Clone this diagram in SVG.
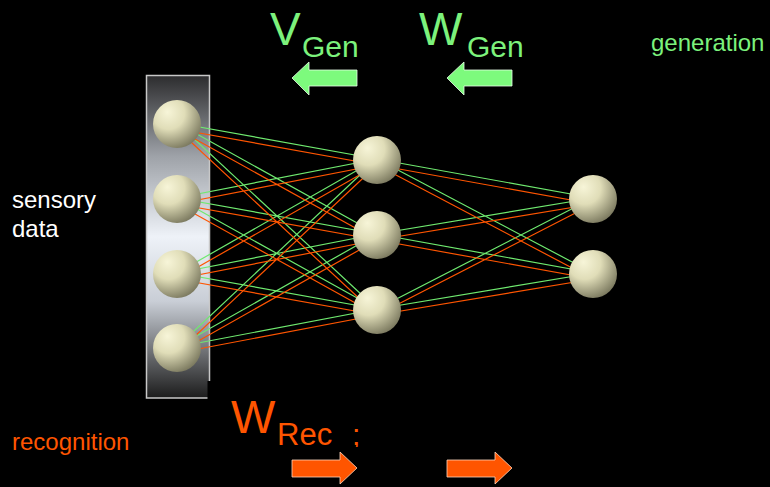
<svg xmlns="http://www.w3.org/2000/svg" xmlns:xlink="http://www.w3.org/1999/xlink" width="770" height="487" viewBox="0 0 770 487">
  <style>
    text { font-family: "Liberation Sans", Arial, sans-serif; }
    .gen { fill: #7cf27c; }
    .rec { fill: #ff5500; }
    .lbl { fill: #ffffff; }
    .wire-g { fill: none; stroke: #6fe96f; stroke-width: 1.2; }
    .wire-o { fill: none; stroke: #ff5500; stroke-width: 1.2; }
    .unit { fill: url(#ball); }
    .arrow-g { fill: #7dfa7d; stroke: #e8ffe8; stroke-width: 0.8; }
    .arrow-o { fill: #ff5500; stroke: #ffd6bd; stroke-width: 0.8; }
  </style>
  <defs>
    <linearGradient id="panel" x1="0" y1="0" x2="0" y2="1">
      <stop offset="0" stop-color="#2c2c2e"/>
      <stop offset="0.25" stop-color="#9ea2a8"/>
      <stop offset="0.5" stop-color="#eef2f8"/>
      <stop offset="0.7" stop-color="#c9ced6"/>
      <stop offset="1" stop-color="#1c1c1c"/>
    </linearGradient>
    <radialGradient id="ball" cx="0.35" cy="0.3" r="0.75" fx="0.3" fy="0.25">
      <stop offset="0" stop-color="#f7f5d8"/>
      <stop offset="0.45" stop-color="#e0ddb8"/>
      <stop offset="1" stop-color="#7a785e"/>
    </radialGradient>
    <clipPath id="semi-clip">
      <rect x="345" y="426" width="20" height="21"/>
    </clipPath>
    <!-- full connectivity: 4 sensory units -> 3 hidden -> 2 top -->
    <path id="web" d="M177,123 L377,159 M177,123 L377,234 M177,123 L377,309
      M177,198 L377,159 M177,198 L377,234 M177,198 L377,309
      M177,273 L377,159 M177,273 L377,234 M177,273 L377,309
      M177,347 L377,159 M177,347 L377,234 M177,347 L377,309
      M377,159 L593,198 M377,159 L593,273
      M377,234 L593,198 M377,234 L593,273
      M377,309 L593,198 M377,309 L593,273"/>
  </defs>

  <rect x="0" y="0" width="770" height="487" fill="#000000"/>

  <!-- sensory panel -->
  <g id="panel-box">
    <rect x="146.5" y="75.5" width="63" height="322.5" fill="url(#panel)" stroke="#c8c8c8" stroke-width="1.5"/>
    <rect x="207.5" y="381" width="6" height="19" fill="#000000"/>
  </g>

  <!-- connectors: generative (green) and recognition (orange) weights -->
  <g id="connectors">
    <use xlink:href="#web" href="#web" class="wire-g"/>
    <use xlink:href="#web" href="#web" class="wire-o" transform="translate(0,6)"/>
  </g>

  <!-- units -->
  <g id="v1"><circle class="unit" cx="177" cy="124" r="24"/></g>
  <g id="v2"><circle class="unit" cx="177" cy="199" r="24"/></g>
  <g id="v3"><circle class="unit" cx="177" cy="274" r="24"/></g>
  <g id="v4"><circle class="unit" cx="177" cy="348" r="24"/></g>
  <g id="h1"><circle class="unit" cx="377" cy="160" r="24"/></g>
  <g id="h2"><circle class="unit" cx="377" cy="235" r="24"/></g>
  <g id="h3"><circle class="unit" cx="377" cy="310" r="24"/></g>
  <g id="t1"><circle class="unit" cx="593" cy="199" r="24"/></g>
  <g id="t2"><circle class="unit" cx="593" cy="274" r="24"/></g>

  <!-- generative direction -->
  <g id="v-gen">
    <text class="gen" x="270" y="45" font-size="46">V</text>
    <text class="gen" x="302" y="57" font-size="30">Gen</text>
  </g>
  <g id="w-gen">
    <text class="gen" x="419" y="45" font-size="46">W</text>
    <text class="gen" x="467" y="57" font-size="30">Gen</text>
  </g>
  <g id="gen-arrows">
    <polygon class="arrow-g" points="292,78 309,62 309,70 357,70 357,86 309,86 309,95"/>
    <polygon class="arrow-g" points="447,78 464,62 464,70 512,70 512,86 464,86 464,95"/>
  </g>
  <text class="gen" x="651" y="51" font-size="24">generation</text>

  <!-- recognition direction -->
  <g id="w-rec">
    <text class="rec" x="231" y="433" font-size="47">W</text>
    <text class="rec" x="277" y="445" font-size="31">Rec</text>
    <text class="rec" x="352" y="445" font-size="30" clip-path="url(#semi-clip)">;</text>
  </g>
  <g id="rec-arrows">
    <polygon class="arrow-o" points="292,460 340,460 340,452 357,468 340,484 340,477 292,477"/>
    <polygon class="arrow-o" points="447,460 495,460 495,452 512,468 495,484 495,477 447,477"/>
  </g>
  <text class="rec" x="12" y="450" font-size="24">recognition</text>

  <text class="lbl" x="12" y="208" font-size="24">sensory</text>
  <text class="lbl" x="12" y="237" font-size="24">data</text>
</svg>
